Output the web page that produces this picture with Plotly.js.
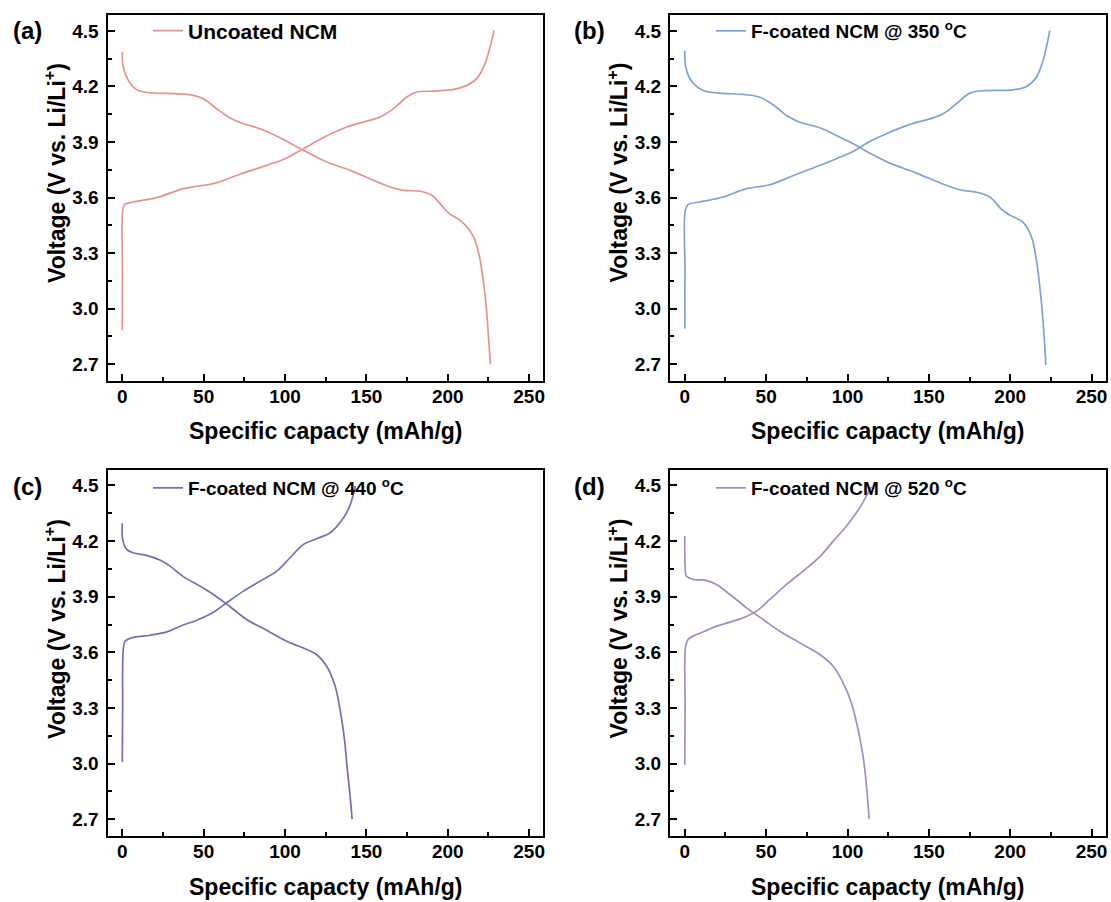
<!DOCTYPE html>
<html><head><meta charset="utf-8">
<script src="https://cdn.plot.ly/plotly-3.0.1.min.js"></script>
<style>html,body{margin:0;padding:0;background:#fff}</style>
</head><body><div id="chart" style="width:1111px;height:902px"></div>
<script>
// ---------- text ----------
const panelLabels = ['(a)', '(b)', '(c)', '(d)'];
const seriesNames = ['Uncoated NCM', 'F-coated NCM @ 350 <sup>o</sup>C', 'F-coated NCM @ 440 <sup>o</sup>C', 'F-coated NCM @ 520 <sup>o</sup>C'];
const xTitleText = 'Specific capacty (mAh/g)';
const yTitleText = 'Voltage (V vs. Li/Li<sup>+</sup>)';
const xTickVals = [0, 50, 100, 150, 200, 250];
const yTickVals = [2.7, 3.0, 3.3, 3.6, 3.9, 4.2, 4.5];
const seriesColors = ['#E8928E', '#7BA3D5', '#6E70B9', '#A68AC6'];

// ---------- data: (a) Uncoated NCM ----------
const chargeA_cap = [0, 0.1, 0.4, 1.7, 6.8, 21.1, 37.5, 45.7, 55.9, 72.3, 88.7, 100, 111.3, 123.6, 137.9, 150.2, 158.4, 166.6, 174.8, 180.9, 191.2, 203.4, 211.7, 217.8, 222.9, 226, 228.5];
const chargeA_V   = [2.884, 3.2, 3.54, 3.564, 3.576, 3.60, 3.648, 3.661, 3.675, 3.726, 3.774, 3.81, 3.864, 3.924, 3.981, 4.013, 4.035, 4.08, 4.143, 4.17, 4.175, 4.184, 4.206, 4.242, 4.323, 4.413, 4.503];
const dischargeA_cap = [0, 0.6, 3.7, 8.8, 17, 31.3, 43.6, 49.8, 58, 66.2, 74.4, 84.6, 92.8, 103.1, 113.3, 125.6, 140, 152.2, 164.5, 172.7, 183, 190.2, 195.3, 200.4, 207.6, 212.7, 216.8, 219.9, 222.3, 224, 225, 226.2];
const dischargeA_V   = [4.386, 4.305, 4.233, 4.183, 4.166, 4.161, 4.152, 4.134, 4.08, 4.03, 3.999, 3.972, 3.941, 3.894, 3.846, 3.792, 3.747, 3.702, 3.657, 3.639, 3.634, 3.612, 3.567, 3.517, 3.477, 3.432, 3.369, 3.261, 3.117, 2.974, 2.848, 2.70];

// ---------- data: (b) F-coated NCM @ 350 C ----------
const chargeB_cap = [0, 0.1, 0.3, 2.0, 9.2, 23.6, 37.9, 52.2, 64.5, 78.9, 93.2, 103.5, 111.7, 124, 138.3, 150.6, 158.8, 167, 175.2, 183.4, 201.8, 210, 216.1, 220.2, 222.7, 224.3];
const chargeB_V   = [2.893, 3.2, 3.531, 3.562, 3.576, 3.603, 3.648, 3.669, 3.711, 3.76, 3.81, 3.849, 3.894, 3.945, 3.995, 4.025, 4.053, 4.107, 4.164, 4.177, 4.182, 4.2, 4.25, 4.34, 4.43, 4.502];
const dischargeB_cap = [0, 0.6, 3.9, 11.3, 21.5, 35.9, 46.1, 54.3, 62.5, 70.7, 83, 93.2, 103.5, 113.7, 126, 142.4, 156.7, 169, 179.3, 187.5, 194.7, 199.8, 208, 213.1, 216.1, 218.2, 219.8, 220.9, 221.9];
const dischargeB_V   = [4.394, 4.304, 4.232, 4.178, 4.164, 4.157, 4.142, 4.101, 4.043, 4.007, 3.977, 3.935, 3.891, 3.84, 3.786, 3.732, 3.68, 3.642, 3.629, 3.603, 3.536, 3.505, 3.466, 3.387, 3.262, 3.118, 2.974, 2.848, 2.696];

// ---------- data: (c) F-coated NCM @ 440 C ----------
const chargeC_cap = [0, 0.2, 0.6, 1.7, 5.8, 17, 27.3, 35.5, 45.7, 56, 64.1, 74.4, 84.6, 94.9, 103.1, 111.3, 119.5, 127.7, 133.8, 138.9, 142, 143.2];
const chargeC_V   = [3.008, 3.3, 3.615, 3.66, 3.678, 3.692, 3.71, 3.741, 3.773, 3.816, 3.867, 3.93, 3.984, 4.038, 4.11, 4.182, 4.213, 4.245, 4.3, 4.371, 4.452, 4.497];
const dischargeC_cap = [0, 0.2, 2.7, 7.8, 14.9, 23.1, 29.3, 37.5, 47.7, 56, 66.2, 76.4, 88.7, 101, 113.3, 119.4, 125.6, 130.8, 133.8, 136.3, 138.3, 140, 141.2];
const dischargeC_V   = [4.296, 4.209, 4.155, 4.134, 4.123, 4.098, 4.065, 4.008, 3.957, 3.912, 3.846, 3.777, 3.719, 3.66, 3.615, 3.588, 3.525, 3.417, 3.291, 3.147, 2.967, 2.823, 2.70];

// ---------- data: (d) F-coated NCM @ 520 C ----------
const chargeD_cap = [0, 0.2, 0.5, 2.0, 7.2, 12.3, 19.5, 27.7, 35.9, 44, 52.2, 62.5, 72.7, 83, 91.2, 99.4, 107.6, 112.7, 114.7];
const chargeD_V   = [2.994, 3.3, 3.633, 3.669, 3.696, 3.714, 3.741, 3.763, 3.786, 3.822, 3.885, 3.966, 4.038, 4.116, 4.2, 4.281, 4.381, 4.462, 4.494];
const dischargeD_cap = [0, 0.2, 1.0, 5.1, 12.3, 19.5, 27.7, 38, 48.1, 58.4, 70.7, 83, 91.2, 97.3, 102.4, 106.5, 109.6, 111.7, 113.3];
const dischargeD_V   = [4.227, 4.065, 4.011, 3.993, 3.989, 3.966, 3.912, 3.84, 3.777, 3.714, 3.651, 3.588, 3.525, 3.435, 3.327, 3.183, 3.039, 2.877, 2.70];

const panels = [
  {charge: [chargeA_cap, chargeA_V], discharge: [dischargeA_cap, dischargeA_V]},
  {charge: [chargeB_cap, chargeB_V], discharge: [dischargeB_cap, dischargeB_V]},
  {charge: [chargeC_cap, chargeC_V], discharge: [dischargeC_cap, dischargeC_V]},
  {charge: [chargeD_cap, chargeD_V], discharge: [dischargeD_cap, dischargeD_V]}
];

// ---------- layout geometry (pixels in a 1111x902 page) ----------
const W = 1111, H = 902;
const colPx = [[107.5, 543.3], [670, 1105.7]];
const rowPx = [[15, 380.5], [469.5, 835.5]];
const FONT = 'Liberation Sans, Arial, Helvetica, sans-serif';
const legendSizes = [21, 19, 19, 19];

const traces = [];
const layout = {
  width: W, height: H,
  margin: {l: 0, r: 0, t: 0, b: 0},
  paper_bgcolor: '#ffffff', plot_bgcolor: '#ffffff',
  showlegend: true,
  annotations: []
};

panels.forEach((p, i) => {
  const n = i + 1;
  const sfx = n === 1 ? '' : String(n);
  const col = i % 2, row = Math.floor(i / 2);
  const legName = n === 1 ? 'legend' : 'legend' + n;
  const lineStyle = {color: seriesColors[i], width: 1.7, shape: 'spline', smoothing: 1};
  traces.push({
    type: 'scatter', mode: 'lines', x: p.charge[0], y: p.charge[1],
    xaxis: 'x' + sfx, yaxis: 'y' + sfx, name: seriesNames[i], legend: legName,
    legendgroup: 'g' + n, line: lineStyle, hoverinfo: 'skip'
  });
  traces.push({
    type: 'scatter', mode: 'lines', x: p.discharge[0], y: p.discharge[1],
    xaxis: 'x' + sfx, yaxis: 'y' + sfx, name: seriesNames[i], legend: legName,
    legendgroup: 'g' + n, showlegend: false, line: lineStyle, hoverinfo: 'skip'
  });

  const xd = [colPx[col][0] / W, colPx[col][1] / W];
  const yd = [1 - rowPx[row][1] / H, 1 - rowPx[row][0] / H];
  const axCommon = {
    showgrid: false, zeroline: false, showline: true, mirror: true,
    linecolor: '#000', linewidth: 2, ticks: 'inside', ticklen: 7, tickwidth: 2, tickcolor: '#000',
    tickfont: {family: FONT, size: 19, color: '#000', weight: 'bold'},
    minor: {ticks: 'inside', ticklen: 4, tickwidth: 2, tickcolor: '#000'}
  };
  layout['xaxis' + sfx] = Object.assign({}, axCommon, {
    domain: xd, anchor: 'y' + sfx, range: [-9.1, 258.7],
    tickmode: 'array', tickvals: xTickVals, ticktext: xTickVals.map(String),
    minor: Object.assign({}, axCommon.minor, {tickmode: 'linear', tick0: 25, dtick: 50}),
    ticklabelstandoff: -2
  });
  layout['yaxis' + sfx] = Object.assign({}, axCommon, {
    domain: yd, anchor: 'x' + sfx, range: [2.612, 4.586],
    tickmode: 'array', tickvals: yTickVals, ticktext: yTickVals.map(v => v.toFixed(1)),
    minor: Object.assign({}, axCommon.minor, {tickmode: 'linear', tick0: 2.85, dtick: 0.3}),
    ticklabelstandoff: 3
  });

  // legend per panel
  const legX = (col === 0 ? 148 : 711) / W;
  const legY = 1 - (row === 0 ? 31 : 488) / H;
  layout[legName] = {
    x: legX, y: legY, xanchor: 'left', yanchor: 'middle', xref: 'paper', yref: 'paper',
    bgcolor: 'rgba(0,0,0,0)', borderwidth: 0,
    font: {family: FONT, size: legendSizes[i], color: '#000', weight: 'bold'}
  };

  const dx = col === 0 ? 0 : 562.5;
  const dy = row === 0 ? 0 : 456;
  // panel label
  layout.annotations.push({
    text: panelLabels[i], xref: 'paper', yref: 'paper',
    x: (27 + dx) / W, y: 1 - (30.5 + dy) / H, xanchor: 'center', yanchor: 'middle',
    showarrow: false, font: {family: FONT, size: 24, color: '#000', weight: 'bold'}
  });
  // x title
  layout.annotations.push({
    text: xTitleText, xref: 'paper', yref: 'paper',
    x: (325.5 + dx) / W, y: 1 - (431 + dy) / H, xanchor: 'center', yanchor: 'middle',
    showarrow: false, font: {family: FONT, size: 23, color: '#000', weight: 'bold'}
  });
  // y title
  layout.annotations.push({
    text: yTitleText, xref: 'paper', yref: 'paper', textangle: -90,
    x: (55 + dx) / W, y: 1 - (173 + dy) / H, xanchor: 'center', yanchor: 'middle',
    showarrow: false, font: {family: FONT, size: 23, color: '#000', weight: 'bold'}
  });
});

Plotly.newPlot('chart', traces, layout, {displayModeBar: false, staticPlot: true});
</script>
</body></html>
